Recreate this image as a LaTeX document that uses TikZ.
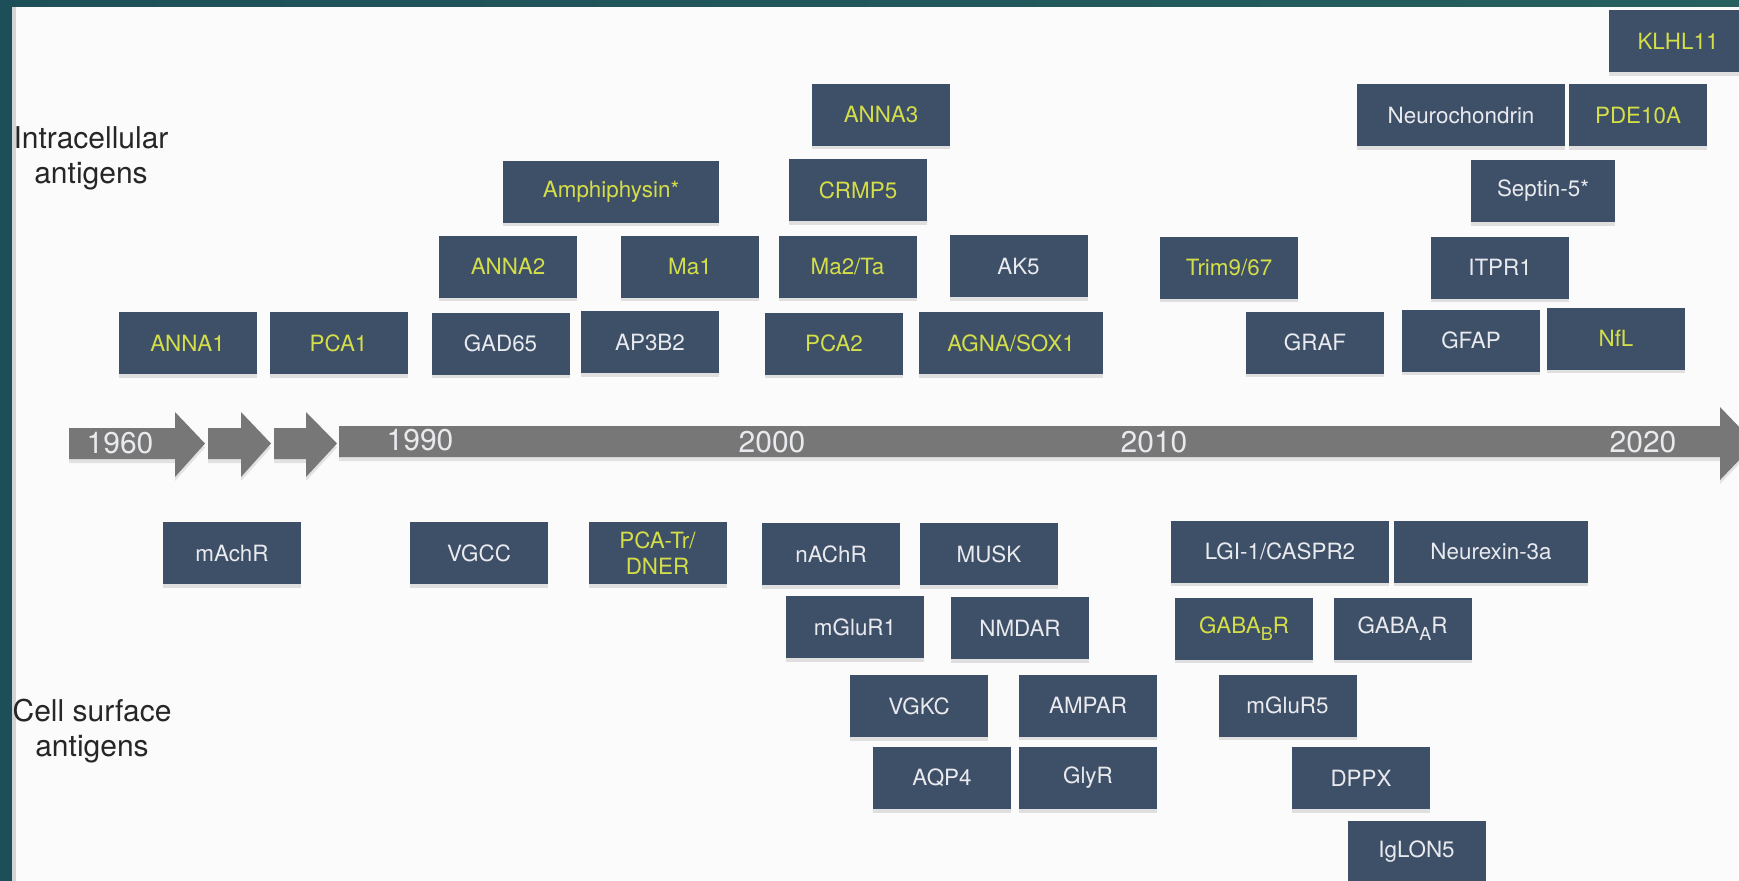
\documentclass[tikz,border=0pt]{standalone}
\usepackage{fontspec}
\setmainfont{TeX Gyre Heros}
\usetikzlibrary{shadows}

\definecolor{slate}{HTML}{3E4F68}
\definecolor{agyellow}{HTML}{D4DE48}
\definecolor{agwhite}{HTML}{E8EAEE}
\definecolor{tlgray}{HTML}{777777}
\definecolor{tealdark}{HTML}{1D4F58}
\definecolor{teallight}{HTML}{265F5D}
\definecolor{paper}{HTML}{FBFBFB}

\newcommand{\lowidx}[1]{\raisebox{-0.55ex}{\fontsize{9}{9}\selectfont #1}}

\tikzset{
  antigen/.style={fill=slate, text=agwhite, minimum width=69pt, minimum height=31pt,
    inner sep=0pt, align=center, font=\fontsize{11.2}{13}\selectfont,
    drop shadow={opacity=0.22, shadow xshift=0pt, shadow yshift=-1.8pt}},
  antigenhi/.style={antigen, text=agyellow},
  year/.style={text=agwhite, inner sep=0pt, font=\fontsize{15}{17}\selectfont},
  side/.style={align=center, text=black!85, font=\fontsize{15}{17.5}\selectfont},
  band/.style={fill=tlgray, drop shadow={opacity=0.2, shadow xshift=0pt, shadow yshift=-2pt}}
}

\begin{document}
\begin{tikzpicture}[x=0.5pt,y=-0.5pt]
  \useasboundingbox (0,0) rectangle (1739,880);

  % frame
  \shade[left color=tealdark, right color=teallight] (-10,-10) rectangle (1750,890);
  \fill[black!17] (12,7) rectangle (1750,890);
  \fill[paper] (16,7) rectangle (1750,890);

  % timeline
  \foreach \xa/\xb/\xt in {69/175/205, 208/241/271, 274/306/337}
    \fill[band] (\xa,428) -- (\xb,428) -- (\xb,412) -- (\xt,443.5) -- (\xb,477)
      -- (\xb,459) -- (\xa,459) -- cycle;
  \fill[band] (339,426) -- (1720,426) -- (1720,407) -- (1755,443.5) -- (1720,480)
    -- (1720,457) -- (339,457) -- cycle;

  \node[year] (y1960) at (120,443) {1960};
  \node[year] (y1990) at (420,440) {1990};
  \node[year] (y2000) at (772,442) {2000};
  \node[year] (y2010) at (1154,442) {2010};
  \node[year] (y2020) at (1643,442) {2020};

  \node[side] (intra) at (91,158) {Intracellular\\antigens};
  \node[side] (surf) at (92,731) {Cell surface\\antigens};

  % intracellular antigens
  \node[antigenhi] (anna1) at (187.5,343) {ANNA1};
  \node[antigenhi] (pca1) at (338.5,343) {PCA1};
  \node[antigen] (gad65) at (500.5,343.5) {GAD65};
  \node[antigen] (ap3b2) at (650,342) {AP3B2};
  \node[antigenhi] (pca2) at (834,343.5) {PCA2};
  \node[antigenhi, minimum width=92pt] (sox1) at (1011,343) {AGNA/SOX1};
  \node[antigen] (graf) at (1315,342.5) {GRAF};
  \node[antigen] (gfap) at (1471,340.5) {GFAP};
  \node[antigenhi] (nfl) at (1616,338.5) {NfL};

  \node[antigenhi] (anna2) at (508,266.5) {ANNA2};
  \node[antigenhi] (ma1) at (690,266.5) {Ma1};
  \node[antigenhi] (ma2) at (847.5,266.5) {Ma2/Ta};
  \node[antigen] (ak5) at (1018.5,266) {AK5};
  \node[antigenhi] (trim) at (1229,267.5) {Trim9/67};
  \node[antigen] (itpr1) at (1500,267.5) {ITPR1};

  \node[antigenhi, minimum width=108pt] (amph) at (611,191.5) {Amphiphysin*};
  \node[antigenhi] (crmp5) at (858,190) {CRMP5};
  \node[antigen, minimum width=72pt] (sept5) at (1543,191) {Septin-5*};

  \node[antigenhi] (anna3) at (881,114.5) {ANNA3};
  \node[antigen, minimum width=104pt] (neuroch) at (1461,115) {Neurochondrin};
  \node[antigenhi] (pde10a) at (1638,115) {PDE10A};
  \node[antigenhi] (klhl11) at (1678,41) {KLHL11};

  % cell surface antigens
  \node[antigen] (machr) at (232,553) {mAchR};
  \node[antigen] (vgcc) at (479,553) {VGCC};
  \node[antigenhi] (dner) at (657.5,553) {PCA-Tr/\\DNER};
  \node[antigen] (nachr) at (831,554) {nAChR};
  \node[antigen] (musk) at (989,554) {MUSK};
  \node[antigen, minimum width=109pt] (lgi1) at (1280,551.5) {LGI-1/CASPR2};
  \node[antigen, minimum width=97pt] (nrxn) at (1491,551.5) {Neurexin-3a};

  \node[antigen] (mglur1) at (855,627) {mGluR1};
  \node[antigen] (nmdar) at (1020,628) {NMDAR};
  \node[antigenhi] (gabab) at (1244,628.5) {GABA\lowidx{B}R};
  \node[antigen] (gabaa) at (1402.5,628.5) {GABA\lowidx{A}R};

  \node[antigen] (vgkc) at (919,706) {VGKC};
  \node[antigen] (ampar) at (1088,705.5) {AMPAR};
  \node[antigen] (mglur5) at (1287.5,705.5) {mGluR5};

  \node[antigen] (aqp4) at (942,778) {AQP4};
  \node[antigen] (glyr) at (1088,778) {GlyR};
  \node[antigen] (dppx) at (1361,778) {DPPX};
  \node[antigen] (iglon5) at (1416.5,852) {IgLON5};

\end{tikzpicture}
\end{document}
